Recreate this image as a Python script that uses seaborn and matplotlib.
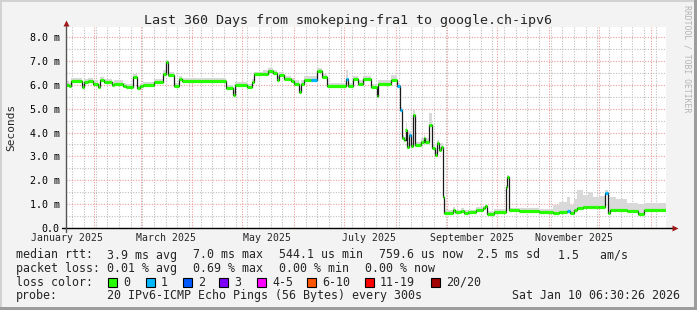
import numpy as np
import pandas as pd
import matplotlib
matplotlib.use("Agg")
import matplotlib.pyplot as plt
import matplotlib.dates as mdates
from matplotlib.ticker import MultipleLocator, NullFormatter, FixedLocator
from matplotlib.patches import Rectangle
from matplotlib.lines import Line2D
import seaborn as sns

# ---------------- data ----------------
start_time = "2025-01-15 06:30:26"
end_time = "2026-01-10 06:30:26"

seg_day = [0, 1.5, 3, 9.5, 11, 13, 16, 19, 20.5, 23,
           27.5, 29, 34, 36, 40, 42.5, 44.5, 46, 53, 58,
           60, 61, 64.5, 67.5, 69.5, 96, 100, 101.5, 108.5, 111.5,
           113, 118, 121, 124, 126.5, 128, 131, 135, 137, 139.5,
           141, 143, 147, 150.5, 153.5, 156.5, 168, 169, 172, 175,
           178, 183, 186.3, 187, 195, 198.7, 200.5, 201.8, 202.8, 203.7,
           204.8, 206, 207.2, 208.3, 209.5, 213, 214.5, 215.5, 218, 219.5,
           221.5, 222.8, 223.8, 225, 226.2, 226.6, 232, 233.5, 237, 238.5,
           241, 246, 250, 251.2, 252.5, 257, 263.8, 264.8, 265.7, 272,
           284, 292, 296, 300.5, 302.5, 304.5, 306.5, 310, 313, 316,
           320, 323.3, 325, 326.3, 330, 336.5, 343, 346.6, 356]

median_ms = [6.00, 5.95, 6.15, 5.90, 6.12, 6.17, 6.05, 5.92, 6.20, 6.12,
             5.98, 6.05, 5.95, 5.90, 6.33, 5.85, 5.95, 6.00, 6.12, 6.47,
             6.95, 6.40, 5.95, 6.25, 6.15, 5.85, 5.58, 6.00, 5.90, 6.12,
             6.44, 6.47, 6.57, 6.50, 6.22, 6.40, 6.25, 6.15, 6.05, 5.70,
             6.05, 6.22, 6.22, 6.57, 6.33, 5.95, 6.25, 5.95, 6.25, 6.05,
             6.25, 5.90, 5.55, 6.05, 6.22, 5.95, 4.94, 3.77, 3.68, 4.10,
             3.40, 3.90, 3.43, 4.73, 3.47, 3.60, 3.77, 3.60, 4.30, 3.35,
             3.05, 3.55, 3.27, 3.40, 1.31, 0.64, 0.76, 0.66, 0.72, 0.64,
             0.66, 0.75, 0.82, 0.92, 0.60, 0.67, 1.73, 2.12, 0.75, 0.72,
             0.68, 0.63, 0.68, 0.72, 0.62, 0.77, 0.85, 0.87, 0.87, 0.87,
             0.90, 1.45, 0.64, 0.75, 0.75, 0.72, 0.58, 0.75, 0.77]

smoke_top_ms = [6.15, 6.08, 6.28, 6.02, 6.25, 6.30, 6.18, 6.05, 6.33, 6.25,
                6.10, 6.18, 6.08, 6.02, 6.45, 5.98, 6.05, 6.10, 6.25, 6.60,
                7.05, 6.52, 6.08, 6.38, 6.28, 6.00, 5.75, 6.12, 6.03, 6.25,
                6.55, 6.60, 6.72, 6.62, 6.35, 6.52, 6.38, 6.28, 6.18, 5.85,
                6.18, 6.35, 6.35, 6.72, 6.45, 6.08, 6.62, 6.08, 6.38, 6.18,
                6.38, 6.03, 5.70, 6.18, 6.40, 6.08, 5.05, 3.90, 3.80, 4.40,
                3.55, 4.05, 3.55, 4.95, 3.60, 3.75, 3.90, 3.75, 4.80, 3.50,
                3.20, 3.70, 3.40, 3.55, 1.40, 0.75, 0.88, 0.76, 0.85, 0.74,
                0.76, 0.86, 0.92, 1.00, 0.72, 0.78, 1.80, 2.20, 0.85, 0.82,
                0.80, 0.95, 1.10, 1.30, 0.95, 1.20, 1.60, 1.40, 1.50, 1.30,
                1.35, 1.60, 1.00, 1.30, 1.20, 1.05, 1.00, 1.05, 1.05]

loss_cat = [0, 0, 0, 0, 0, 0, 0, 0, 0, 0,
            0, 0, 0, 0, 0, 0, 0, 0, 0, 0,
            0, 0, 0, 0, 0, 0, 0, 0, 0, 0,
            0, 0, 0, 0, 0, 0, 0, 0, 0, 0,
            0, 0, 1, 0, 0, 0, 1, 0, 0, 0,
            0, 0, 0, 0, 0, 1, 1, 0, 0, 0,
            0, 1, 0, 0, 0, 0, 0, 0, 0, 0,
            0, 0, 0, 0, 0, 0, 0, 0, 0, 0,
            0, 0, 0, 0, 0, 0, 0, 0, 0, 0,
            0, 0, 0, 1, 0, 0, 0, 0, 0, 0,
            0, 1, 0, 0, 0, 0, 0, 0, 0]

loss_labels = ["0", "1", "2", "3", "4-5", "6-10", "11-19", "20/20"]
loss_colors = ["#26ff00", "#00b8ff", "#0059ff", "#7e00ff", "#ff00ff",
               "#ff5500", "#ff0000", "#a10000"]

month_labels = ["January 2025", "March 2025", "May 2025", "July 2025",
                "September 2025", "November 2025"]
month_label_dates = ["2025-01-16", "2025-03-16", "2025-05-16", "2025-07-16",
                     "2025-09-16", "2025-11-16"]

ytick_vals = [0, 1, 2, 3, 4, 5, 6, 7, 8]
ytick_labels = ["0.0", "1.0 m", "2.0 m", "3.0 m", "4.0 m", "5.0 m",
                "6.0 m", "7.0 m", "8.0 m"]

title_text = "Last 360 Days from smokeping-fra1 to google.ch-ipv6"
rtt_items = ["median rtt:", "3.9 ms avg", "7.0 ms max", "544.1 us min",
             "759.6 us now", "2.5 ms sd", "1.5   am/s"]
loss_items = ["packet loss:", "0.01 % avg", "0.69 % max", "0.00 % min",
              "0.00 % now"]
probe_text = "20 IPv6-ICMP Echo Pings (56 Bytes) every 300s"
date_text = "Sat Jan 10 06:30:26 2026"

# ---------------- style ----------------
sns.set_style("white")
plt.rcParams['font.family'] = ['DejaVu Sans Mono', 'DejaVu Sans']

W, H = 697, 310
fig = plt.figure(figsize=(W / 100, H / 100), dpi=100)
fig.patch.set_facecolor("#f3f3f3")

def fx(px):
    return px / W

def fy(py):
    return 1 - py / H

ax_left, ax_right, ax_top, ax_bot = 66, 666, 27, 228
ax = fig.add_axes([fx(ax_left), fy(ax_bot), (ax_right - ax_left) / W,
                   (ax_bot - ax_top) / H])
ax.set_facecolor("white")

t0 = pd.Timestamp(start_time)
t1 = pd.Timestamp(end_time)
times = [t0 + pd.Timedelta(days=d) for d in seg_day]
times_ext = times + [t1]
med_ext = median_ms + [median_ms[-1]]
top_ext = smoke_top_ms + [smoke_top_ms[-1]]

df = pd.DataFrame({"time": times_ext, "median": med_ext, "top": top_ext})

# smoke
ax.fill_between(mdates.date2num(df["time"]), df["median"], df["top"],
                step="post", color="#d9d9d9", lw=0, zorder=2)

# median black line
sns.lineplot(data=df, x="time", y="median", drawstyle="steps-post",
             color="#1a1a1a", lw=0.9, ax=ax, zorder=4, legend=False)

# loss-colored band
xs = mdates.date2num(times_ext)
ax.hlines(median_ms, xs[:-1], xs[1:],
          colors=[loss_colors[c] for c in loss_cat], lw=2.3, zorder=5)

ax.set_xlim(mdates.date2num(t0), mdates.date2num(t1))
ax.set_ylim(0, 8.42)

# grids
ax.xaxis.set_major_locator(mdates.MonthLocator())
ax.xaxis.set_minor_locator(mdates.WeekdayLocator(byweekday=mdates.SU))
ax.xaxis.set_major_formatter(NullFormatter())
ax.xaxis.set_minor_formatter(NullFormatter())
ax.yaxis.set_major_locator(FixedLocator(ytick_vals))
ax.set_yticklabels(ytick_labels)
ax.yaxis.set_minor_locator(MultipleLocator(0.5))

dot = (0, (1, 1.4))
ax.grid(which="minor", color="#bdbdbd", ls=dot, lw=0.8, zorder=0)
ax.grid(which="major", color="#ef9a9a", ls=dot, lw=0.8, zorder=1)
ax.set_axisbelow(True)

ax.tick_params(axis="x", which="major", length=2.5, width=0.7, color="#333333",
               direction="out")
ax.tick_params(axis="x", which="minor", length=1.5, width=0.6, color="#555555",
               direction="out")
ax.tick_params(axis="y", which="major", length=2.5, width=0.7, color="#333333",
               pad=2.0, labelsize=7.2, labelcolor="#000000")
ax.tick_params(axis="y", which="minor", length=1.5, width=0.6, color="#555555")
ax.set_xlabel("")
ax.set_ylabel("")

for s in ["top", "right", "left", "bottom"]:
    ax.spines[s].set_visible(False)

# axis lines with arrows
ax.add_line(Line2D([-0.006, 1.012], [0, 0], transform=ax.transAxes,
                   color="#000000", lw=1.0, clip_on=False, zorder=6))
ax.add_line(Line2D([0, 0], [-0.02, 1.015], transform=ax.transAxes,
                   color="#555555", lw=1.0, clip_on=False, zorder=6))
ax.plot([1.015], [0], marker=">", ms=4.5, color="#a01818",
        transform=ax.transAxes, clip_on=False, zorder=7, mec="none")
ax.plot([0], [1.02], marker="^", ms=4.5, color="#a01818",
        transform=ax.transAxes, clip_on=False, zorder=7, mec="none")

# x labels (centered mid-month)
for d, lab in zip(month_label_dates, month_labels):
    ax.text(mdates.date2num(pd.Timestamp(d)), -(237.8 - ax_bot) / (ax_bot - ax_top),
            lab, transform=ax.get_xaxis_transform(), ha="center", va="center",
            fontsize=7.1, clip_on=False)

# title & labels
fig.text(fx(348), fy(24), title_text, ha="center", va="baseline", fontsize=9.6)
fig.text(fx(11), fy(127), "Seconds", rotation=90, ha="center", va="center",
         fontsize=8.0)
fig.text(fx(687), fy(59), "RRDTOOL / TOBI OETIKER", rotation=270,
         ha="center", va="center", fontsize=5.9, color="#b4b4b4")

# legend rows
lfs = 8.35
rtt_x = [16, 107, 193, 279, 379, 477, 558]
for x, t in zip(rtt_x, rtt_items):
    fig.text(fx(x), fy(258.5), t, ha="left", va="baseline", fontsize=lfs)
loss_x = [16, 107, 193, 279, 365]
for x, t in zip(loss_x, loss_items):
    fig.text(fx(x), fy(272), t, ha="left", va="baseline", fontsize=lfs)
fig.text(fx(16), fy(285.5), "loss color:", ha="left", va="baseline", fontsize=lfs)
box_x = [108, 146, 183, 219, 257, 307, 365, 431]
for x, lab, col in zip(box_x, loss_labels, loss_colors):
    fig.patches.append(Rectangle((fx(x), fy(286.5)), 9 / W, 9 / H,
                                 facecolor=col, edgecolor="black", lw=0.8,
                                 transform=fig.transFigure, figure=fig))
    fig.text(fx(x + 15), fy(285.5), lab, ha="left", va="baseline", fontsize=lfs)
fig.text(fx(16), fy(299.3), "probe:", ha="left", va="baseline", fontsize=lfs)
fig.text(fx(107), fy(299.3), probe_text, ha="left", va="baseline", fontsize=lfs)
fig.text(fx(680), fy(299.3), date_text, ha="right", va="baseline", fontsize=lfs)

# 3D border
for (x, y, w, h, c) in [(0, 0, 2, H, "#d2d2d2"), (0, 0, W, 2, "#d2d2d2"),
                        (W - 3, 0, 3, H, "#9c9c9c"), (0, H - 3, W, 3, "#9c9c9c")]:
    fig.patches.append(Rectangle((fx(x), fy(y + h)), w / W, h / H,
                                 facecolor=c, edgecolor="none",
                                 transform=fig.transFigure, figure=fig))

fig.savefig("out.png", dpi=100, facecolor=fig.get_facecolor())
